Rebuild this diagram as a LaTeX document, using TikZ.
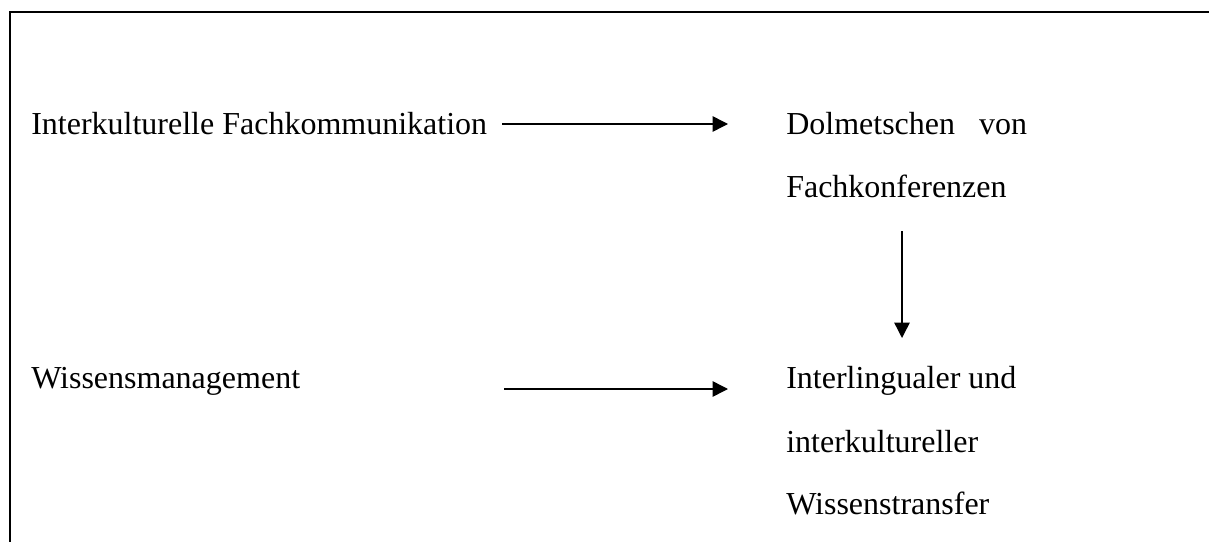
\documentclass[tikz,border=0pt]{standalone}
\usepackage{fontspec}
\setmainfont{Liberation Serif}
\usetikzlibrary{arrows.meta}
\begin{document}
\begin{tikzpicture}[x=0.75pt, y=-0.75pt]
    \tikzset{>={Triangle[length=11.5pt,width=11.5pt]}}
    \tikzset{txt/.style={anchor=base west, inner sep=0pt, font=\fontsize{24}{28}\selectfont}}
    \useasboundingbox (0,0) rectangle (1209,542);
    % frame
    \draw [line width=1.5pt] (10,542) -- (10,12) -- (1209,12);
    % left column
    \node[txt] (ifk) at (31,134) {Interkulturelle Fachkommunikation};
    \node[txt] (wm) at (31,388) {Wissensmanagement};
    % right column
    \node[txt] (dol) at (786,134) {Dolmetschen\ \ \ von};
    \node[txt] (fk) at (786,197) {Fachkonferenzen};
    \node[txt] (il) at (786,388) {Interlingualer und};
    \node[txt] (ik) at (786,452) {interkultureller};
    \node[txt] (wt) at (786,514) {Wissenstransfer};
    % arrow ends
    \coordinate (a1) at (502,124);
    \coordinate (b1) at (728,124);
    \coordinate (a2) at (504,389);
    \coordinate (b2) at (728,389);
    \coordinate (a3) at (902,231);
    \coordinate (b3) at (902,338);
    \draw [->,line width=1.1pt] (a1) -- (b1);
    \draw [->,line width=1.1pt] (a2) -- (b2);
    \draw [->,line width=1.1pt] (a3) -- (b3);
\end{tikzpicture}
\end{document}
